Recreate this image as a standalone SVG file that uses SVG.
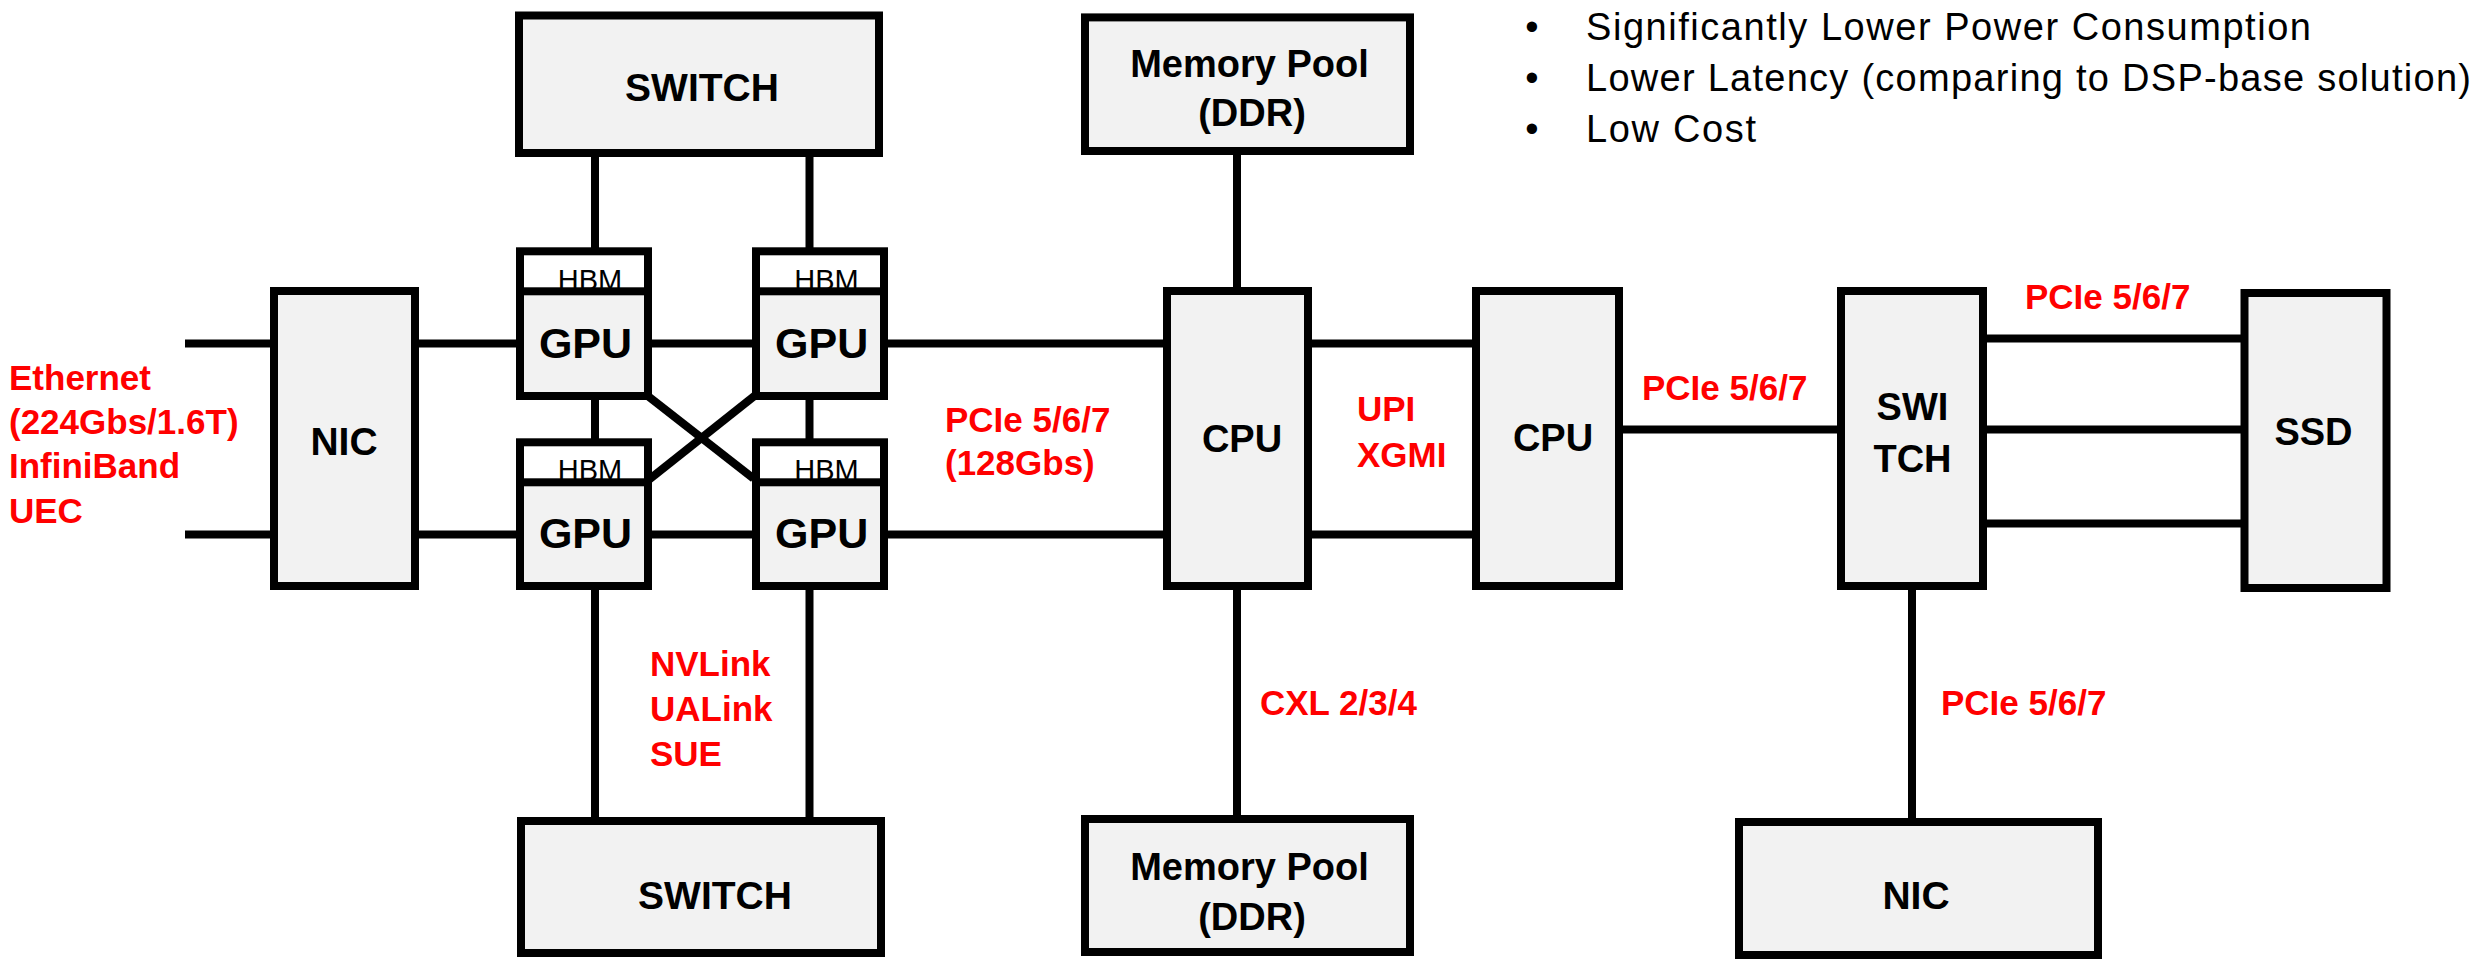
<svg xmlns="http://www.w3.org/2000/svg" width="2479" height="960" viewBox="0 0 2479 960">
<defs>
<style>
.box{fill:#f2f2f2;stroke:#000;stroke-width:8}
.hbm{fill:#fff;stroke:#000;stroke-width:8}
.ln{stroke:#000;stroke-width:8;fill:none}
.lbl{font-family:"Liberation Sans",Arial,sans-serif;font-weight:bold;fill:#000;text-anchor:middle}
.hbmt{font-family:"Liberation Sans",Arial,sans-serif;font-size:29px;fill:#000;text-anchor:middle}
.red{font-family:"Liberation Sans",Arial,sans-serif;font-weight:bold;font-size:35px;fill:#ff0000}
.bul{font-family:"Liberation Sans",Arial,sans-serif;font-size:38px;fill:#000}
</style>
</defs>
<rect width="2479" height="960" fill="#fff"/>

<g id="connectors">
<line class="ln" x1="185" y1="343.5" x2="272" y2="343.5"/>
<line class="ln" x1="185" y1="534.5" x2="272" y2="534.5"/>
<line class="ln" x1="417" y1="343.5" x2="518" y2="343.5"/>
<line class="ln" x1="417" y1="534.5" x2="518" y2="534.5"/>
<line class="ln" x1="650" y1="343.5" x2="754" y2="343.5"/>
<line class="ln" x1="650" y1="534.5" x2="754" y2="534.5"/>
<line class="ln" x1="886" y1="343.5" x2="1165" y2="343.5"/>
<line class="ln" x1="886" y1="534.5" x2="1165" y2="534.5"/>
<line class="ln" x1="1310" y1="343.5" x2="1474" y2="343.5"/>
<line class="ln" x1="1310" y1="534.5" x2="1474" y2="534.5"/>
<line class="ln" x1="1621" y1="429.5" x2="1839" y2="429.5"/>
<line class="ln" x1="1985" y1="338.5" x2="2242" y2="338.5"/>
<line class="ln" x1="1985" y1="429.5" x2="2242" y2="429.5"/>
<line class="ln" x1="1985" y1="523.5" x2="2242" y2="523.5"/>
<line class="ln" x1="595" y1="155" x2="595" y2="249"/>
<line class="ln" x1="809.5" y1="155" x2="809.5" y2="249"/>
<line class="ln" x1="595" y1="398" x2="595" y2="440"/>
<line class="ln" x1="809.5" y1="398" x2="809.5" y2="440"/>
<line class="ln" x1="595" y1="588" x2="595" y2="819"/>
<line class="ln" x1="809.5" y1="588" x2="809.5" y2="819"/>
<line class="ln" x1="648.5" y1="396.5" x2="753.5" y2="478.5"/>
<line class="ln" x1="755" y1="395.5" x2="648.5" y2="480"/>
<line class="ln" x1="1237" y1="153" x2="1237" y2="289"/>
<line class="ln" x1="1237" y1="588" x2="1237" y2="817"/>
<line class="ln" x1="1912" y1="588" x2="1912" y2="820"/>
</g>

<g id="switch-top">
<rect class="box" x="519" y="15.5" width="360" height="137.5"/>
<text class="lbl" x="702" y="101" font-size="39">SWITCH</text>
</g>
<g id="switch-bottom">
<rect class="box" x="521" y="821" width="360" height="132"/>
<text class="lbl" x="715" y="909" font-size="39">SWITCH</text>
</g>
<g id="nic-left">
<rect class="box" x="274" y="291" width="141" height="295"/>
<text class="lbl" x="344" y="454.5" font-size="39">NIC</text>
</g>

<g id="gpu-tl">
<rect class="hbm" x="520" y="251.3" width="128" height="44"/>
<text class="hbmt" x="590" y="289.5">HBM</text>
<rect class="box" x="520" y="291.3" width="128" height="104.7"/>
<text class="lbl" x="585.5" y="358.3" font-size="43">GPU</text>
</g>
<g id="gpu-tr">
<rect class="hbm" x="756" y="251.3" width="128" height="44"/>
<text class="hbmt" x="826.5" y="289.5">HBM</text>
<rect class="box" x="756" y="291.3" width="128" height="104.7"/>
<text class="lbl" x="821.7" y="358.3" font-size="43">GPU</text>
</g>
<g id="gpu-bl">
<rect class="hbm" x="520" y="442.3" width="128" height="44"/>
<text class="hbmt" x="590" y="480">HBM</text>
<rect class="box" x="520" y="482.3" width="128" height="103.7"/>
<text class="lbl" x="585.5" y="548" font-size="43">GPU</text>
</g>
<g id="gpu-br">
<rect class="hbm" x="756" y="442.3" width="128" height="44"/>
<text class="hbmt" x="826.5" y="480">HBM</text>
<rect class="box" x="756" y="482.3" width="128" height="103.7"/>
<text class="lbl" x="821.7" y="548" font-size="43">GPU</text>
</g>

<g id="mem-top">
<rect class="box" x="1085" y="17.4" width="325" height="133.6"/>
<text class="lbl" x="1249.5" y="76.5" font-size="38">Memory Pool</text>
<text class="lbl" x="1252" y="126" font-size="38">(DDR)</text>
</g>
<g id="mem-bottom">
<rect class="box" x="1085" y="819" width="325" height="133"/>
<text class="lbl" x="1249.5" y="880" font-size="38">Memory Pool</text>
<text class="lbl" x="1252" y="930" font-size="38">(DDR)</text>
</g>
<g id="cpu1">
<rect class="box" x="1167" y="291" width="141" height="295"/>
<text class="lbl" x="1242" y="451.5" font-size="38">CPU</text>
</g>
<g id="cpu2">
<rect class="box" x="1476" y="291" width="143" height="295"/>
<text class="lbl" x="1553" y="451" font-size="38">CPU</text>
</g>
<g id="switch-right">
<rect class="box" x="1841" y="291" width="142" height="295"/>
<text class="lbl" x="1912.5" y="420" font-size="38">SWI</text>
<text class="lbl" x="1912.5" y="471.5" font-size="38">TCH</text>
</g>
<g id="ssd">
<rect class="box" x="2244.5" y="293" width="142" height="295"/>
<text class="lbl" x="2313.5" y="444.5" font-size="38">SSD</text>
</g>
<g id="nic-bottom">
<rect class="box" x="1739" y="822" width="359" height="133"/>
<text class="lbl" x="1916" y="909" font-size="39">NIC</text>
</g>

<g id="labels">
<text class="red" x="9" y="390">Ethernet</text>
<text class="red" x="9" y="434">(224Gbs/1.6T)</text>
<text class="red" x="9" y="478">InfiniBand</text>
<text class="red" x="9" y="523">UEC</text>
<text class="red" x="945" y="431.5">PCIe 5/6/7</text>
<text class="red" x="945" y="475">(128Gbs)</text>
<text class="red" x="1357" y="421">UPI</text>
<text class="red" x="1357" y="467">XGMI</text>
<text class="red" x="1642" y="400">PCIe 5/6/7</text>
<text class="red" x="2025" y="309">PCIe 5/6/7</text>
<text class="red" x="650" y="675.5">NVLink</text>
<text class="red" x="650" y="720.5">UALink</text>
<text class="red" x="650" y="765.5">SUE</text>
<text class="red" x="1260" y="715">CXL 2/3/4</text>
<text class="red" x="1941" y="715">PCIe 5/6/7</text>
</g>

<g id="bullets">
<text class="bul" x="1532" y="40" text-anchor="middle">•</text>
<text class="bul" x="1532" y="91" text-anchor="middle">•</text>
<text class="bul" x="1532" y="142" text-anchor="middle">•</text>
<text class="bul" x="1586" y="40" textLength="725" lengthAdjust="spacing">Significantly Lower Power Consumption</text>
<text class="bul" x="1586" y="91" textLength="885" lengthAdjust="spacing">Lower Latency (comparing to DSP-base solution)</text>
<text class="bul" x="1586" y="142" textLength="170" lengthAdjust="spacing">Low Cost</text>
</g>
</svg>
